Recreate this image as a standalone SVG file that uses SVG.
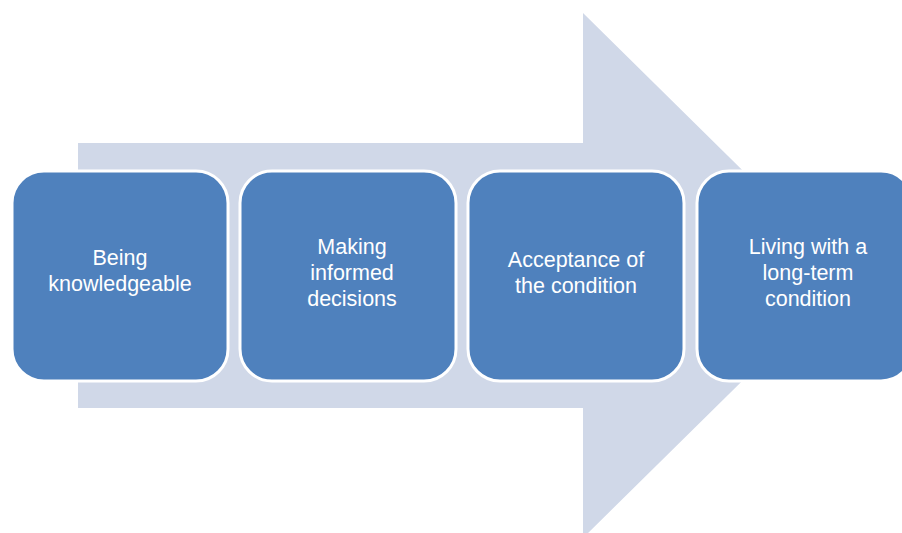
<svg xmlns="http://www.w3.org/2000/svg" width="902" height="533" viewBox="0 0 902 533">
<style>
.box{fill:#4F81BD;stroke:#FFFFFF;stroke-width:3}
.lbl{font-family:"Liberation Sans",Arial,sans-serif;font-size:21.5px;fill:#FFFFFF;text-anchor:middle}
</style>
<rect width="902" height="533" fill="#FFFFFF"/>
<g id="arrow">
<polygon points="78,143 583,143 583,13 849,275.5 583,538 583,408 78,408" fill="#D0D8E8"/>
</g>
<g id="connectors"></g>
<g id="node1">
<rect class="box" x="12" y="171" width="216" height="210" rx="32"/>
<text class="lbl" x="120"><tspan x="120" y="264.5">Being</tspan><tspan x="120" y="290.5">knowledgeable</tspan></text>
</g>
<g id="node2">
<rect class="box" x="240" y="171" width="216" height="210" rx="32"/>
<text class="lbl"><tspan x="352" y="253.5">Making</tspan><tspan x="352" y="279.5">informed</tspan><tspan x="352" y="305.5">decisions</tspan></text>
</g>
<g id="node3">
<rect class="box" x="468" y="171" width="216" height="210" rx="32"/>
<text class="lbl"><tspan x="576" y="266.5">Acceptance of</tspan><tspan x="576" y="292.5">the condition</tspan></text>
</g>
<g id="node4">
<rect class="box" x="697" y="171" width="216" height="210" rx="32"/>
<text class="lbl"><tspan x="808" y="253.5">Living with a</tspan><tspan x="808" y="279.5">long-term</tspan><tspan x="808" y="305.5">condition</tspan></text>
</g>
</svg>
